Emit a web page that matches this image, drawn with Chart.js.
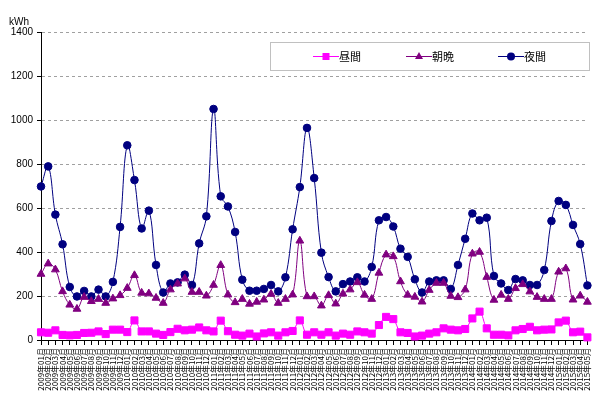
<!DOCTYPE html>
<html>
<head>
<meta charset="utf-8">
<script src="https://cdn.jsdelivr.net/npm/chart.js@4/dist/chart.umd.min.js"></script>
<style>
body{margin:0;background:#fff;}
canvas{display:block;}
</style>
</head>
<body>
<canvas id="chart" width="600" height="408"></canvas>
<script>
// monthly labels
var months = [
 "2009年01月","2009年02月","2009年03月","2009年04月","2009年05月","2009年06月","2009年07月","2009年08月","2009年09月","2009年10月","2009年11月","2009年12月",
 "2010年01月","2010年02月","2010年03月","2010年04月","2010年05月","2010年06月","2010年07月","2010年08月","2010年09月","2010年10月","2010年11月","2010年12月",
 "2011年01月","2011年02月","2011年03月","2011年04月","2011年05月","2011年06月","2011年07月","2011年08月","2011年09月","2011年10月","2011年11月","2011年12月",
 "2012年01月","2012年02月","2012年03月","2012年04月","2012年05月","2012年06月","2012年07月","2012年08月","2012年09月","2012年10月","2012年11月","2012年12月",
 "2013年01月","2013年02月","2013年03月","2013年04月","2013年05月","2013年06月","2013年07月","2013年08月","2013年09月","2013年10月","2013年11月","2013年12月",
 "2014年01月","2014年02月","2014年03月","2014年04月","2014年05月","2014年06月","2014年07月","2014年08月","2014年09月","2014年10月","2014年11月","2014年12月",
 "2015年01月","2015年02月","2015年03月","2015年04月","2015年05月"
];

var hiruma = [35,33,44,23,21,23,32,33,39,27, 47,47,36,89,39,39,29,23,36,51,
 44,47,57,44,39,88,40,24,20,29, 16,30,35,20,35,41,89,24,35,24,
 35,20,29,24,39,35,29,68,105,95, 35,32,16,20,29,35,53,47,44,50,
 98,129,53,24,24,21,44,50,60,44, 47,48,80,88,35,38,12];

var asaban = [300,347,320,221,160,141,195,176,186,168, 188,203,236,294,214,211,191,168,229,256,
 279,218,218,201,250,340,206,171,186,164, 173,183,209,168,186,206,451,198,198,156,
 203,165,210,229,262,205,186,305,388,380, 266,205,196,174,227,259,259,200,194,229,
 392,400,286,182,205,186,235,253,220,195, 186,186,310,325,183,201,173];

var yakan = [698,789,570,435,241,198,223,198,229,198, 264,514,885,727,507,588,341,216,257,262,
 297,250,439,562,1050,653,607,491,274,224, 224,232,250,221,285,503,695,964,736,397,
 286,221,254,266,285,266,332,544,559,516, 415,378,276,216,266,271,271,232,341,460,
 575,544,556,291,257,227,277,271,250,250, 318,541,632,614,523,436,248];

var seriesNames = ["昼間","朝晩","夜間"];
var yTicks = [0,200,400,600,800,1000,1200,1400];
var unitLabel = "kWh";

var jp = "'Noto Sans CJK JP', sans-serif";

// legend box + kWh text
var extras = {
  id: 'extras',
  afterDraw: function(chart){
    var ctx = chart.ctx;
    ctx.save();
    ctx.fillStyle = '#000';
    ctx.font = "10px 'Liberation Sans', sans-serif";
    ctx.textBaseline = 'top';
    ctx.fillText(unitLabel, 9, 17);

    ctx.fillStyle = '#fff';
    ctx.fillRect(270.5, 42.5, 319, 28);
    ctx.strokeStyle = '#c0c0c0';
    ctx.lineWidth = 1;
    ctx.strokeRect(270.5, 42.5, 319, 28);

    var xs = [313, 406, 498];
    chart.data.datasets.forEach(function(ds, i){
      var x = xs[i], y = 56.5;
      ctx.strokeStyle = ds.borderColor;
      ctx.lineWidth = 1;
      ctx.beginPath();
      ctx.moveTo(x, y); ctx.lineTo(x + 26, y);
      ctx.stroke();
      ctx.fillStyle = ds.pointBackgroundColor;
      var cx = x + 13;
      ctx.beginPath();
      if (ds.pointStyle == 'rect') {
        ctx.rect(cx - 3.5, y - 3.5, 7, 7);
      } else if (ds.pointStyle == 'triangle') {
        ctx.moveTo(cx, y - 4.5); ctx.lineTo(cx + 4, y + 2.5); ctx.lineTo(cx - 4, y + 2.5); ctx.closePath();
      } else {
        ctx.arc(cx, y, 4, 0, Math.PI * 2);
      }
      ctx.fill();
      ctx.fillStyle = '#000';
      ctx.font = "11px " + jp;
      ctx.textBaseline = 'middle';
      ctx.fillText(ds.label, x + 26, y);
    });
    ctx.restore();
  }
};

new Chart(document.getElementById("chart"), {
  type: 'line',
  data: {
    labels: months,
    datasets: [
      {label: seriesNames[0], data: hiruma, borderColor: '#ff00ff', backgroundColor: '#ff00ff',
       pointBackgroundColor: '#ff00ff', pointBorderColor: '#ff00ff', pointStyle: 'rect', pointRadius: 5, borderWidth: 1},
      {label: seriesNames[1], data: asaban, borderColor: '#800080', backgroundColor: '#800080',
       pointBackgroundColor: '#800080', pointBorderColor: '#800080', pointStyle: 'triangle', pointRadius: 4.5, borderWidth: 1},
      {label: seriesNames[2], data: yakan, borderColor: '#000080', backgroundColor: '#000080',
       pointBackgroundColor: '#000080', pointBorderColor: '#000080', pointStyle: 'circle', pointRadius: 3.8, borderWidth: 1}
    ]
  },
  options: {
    responsive: false,
    animation: false,
    layout: {padding: {left: 0, right: 9, top: 32, bottom: 0}},
    plugins: {legend: {display: false}, tooltip: {enabled: false}},
    datasets: {line: {tension: 0.4, clip: false}},
    scales: {
      x: {
        offset: false,
        afterFit: function(s){ s.height = 68; },
        grid: {drawOnChartArea: false, drawTicks: true, tickLength: 5, tickColor: '#000'},
        border: {display: true, color: '#000', width: 1},
        ticks: {autoSkip: false, maxRotation: 90, minRotation: 90, padding: 3, color: '#000',
                font: {family: jp, size: 8}}
      },
      y: {
        min: 0, max: 1400,
        afterFit: function(s){ s.width = 41; },
        afterBuildTicks: function(s){ s.ticks = yTicks.map(function(v){ return {value: v}; }); },
        grid: {
          color: function(c){ return c.tick && c.tick.value === 0 ? 'rgba(0,0,0,0)' : '#a0a0a0'; },
          tickColor: '#000', tickLength: 4
        },
        border: {display: true, color: '#000', width: 1, dash: [3, 3]},
        ticks: {padding: 4, color: '#000', font: {family: "'Liberation Sans', sans-serif", size: 10},
                callback: function(v){ return String(v); }}
      }
    }
  },
  plugins: [extras]
});
</script>
</body>
</html>
